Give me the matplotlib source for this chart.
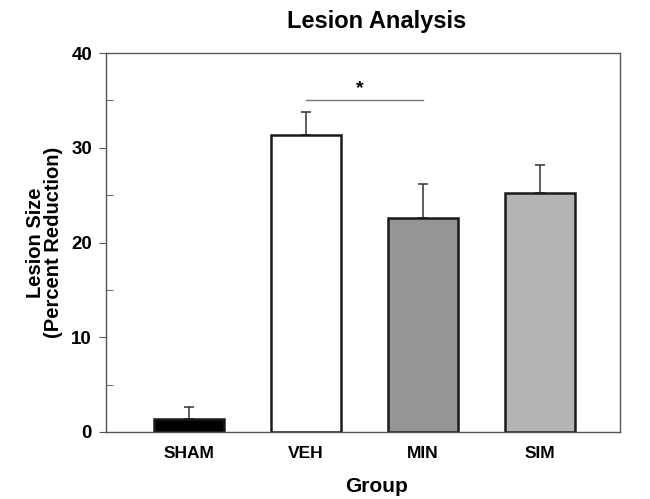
import matplotlib.pyplot as plt
import numpy as np

plt.rcParams['font.family'] = ['Liberation Sans', 'DejaVu Sans']

groups = ['SHAM', 'VEH', 'MIN', 'SIM']
lesion = [1.4, 31.3, 22.6, 25.2]
sem = [1.2, 2.5, 3.6, 3.0]
bar_colors = ['#000000', '#ffffff', '#959595', '#b4b4b4']
sig_pair = (1, 2)
sig_y = 35.0

fig = plt.figure(figsize=(6.5, 4.99), dpi=100)
ax = fig.add_axes([106 / 650, 1 - 432 / 499, 514 / 650, 379 / 499])

x = np.arange(len(groups))
ax.bar(x, lesion, width=0.6, color=bar_colors, edgecolor='#1a1a1a',
       linewidth=1.8, zorder=2)
ax.errorbar(x, lesion, yerr=[np.zeros(len(sem)), sem], fmt='none',
            ecolor='#333333', elinewidth=1.1, capsize=3.5, capthick=1.1, zorder=1)

# significance bar
ax.plot(sig_pair, [sig_y, sig_y], color='#777777', linewidth=1.0)
ax.text(np.mean(sig_pair) - 0.04, sig_y + 0.3, '*', ha='center', va='bottom',
        fontsize=14, fontweight='bold')

ax.set_xlim(-0.707, 3.686)
ax.set_ylim(0, 40)
ax.set_yticks([0, 10, 20, 30, 40])
ax.set_yticks([5, 15, 25, 35], minor=True)
ax.tick_params(axis='y', which='major', direction='out', length=5,
               color='#555555', labelsize=13.5, pad=5)
ax.tick_params(axis='y', which='minor', direction='in', length=5, color='#555555')
ax.tick_params(axis='x', length=0, labelsize=12.5, pad=10)
ax.set_xticks(x)
ax.set_xticklabels(groups)
for lab in ax.get_xticklabels() + ax.get_yticklabels():
    lab.set_fontweight('bold')

for s in ax.spines.values():
    s.set_color('#555555')
    s.set_linewidth(1.0)

ax.set_title('Lesion Analysis', fontsize=17, fontweight='bold', pad=18, x=0.527)
ax.set_xlabel('Group', fontsize=15, fontweight='bold')
ax.xaxis.set_label_coords(0.527, -0.118)
ax.set_ylabel('Lesion Size\n(Percent Reduction)', fontsize=14.5,
              fontweight='bold', linespacing=0.95, labelpad=6)

fig.savefig('out.png', dpi=100)
